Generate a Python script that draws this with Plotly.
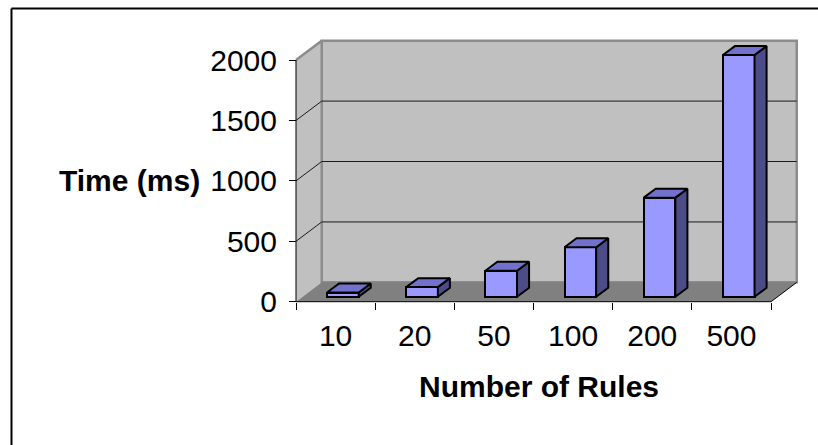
import plotly.graph_objects as go

# ---- data -------------------------------------------------------------
rules = ["10", "20", "50", "100", "200", "500"]
time_ms = [35, 80, 215, 410, 820, 2000]
y_ticks = [0, 500, 1000, 1500, 2000]

# ---- oblique "3-D" geometry, in data units ----------------------------
WALL_DX, WALL_DY = 0.325, 160      # depth of floor / side wall
BAR_BASE = 41                       # bars stand a little behind the front edge
BAR_DX, BAR_DY = 0.152, 74          # depth of each bar
BAR_W, BAR_OFF = 0.40, -0.108

FRONT, TOP, SIDE = "#9999FF", "#7272CC", "#4C4C88"
WALL, FLOOR, EDGE = "#C0C0C0", "#808080", "#8C8C8C"
FONT = "Liberation Sans, Arial, sans-serif"

n = len(rules)
x0, x1 = -0.5, n - 0.5
ymax = y_ticks[-1]

fig = go.Figure()

# front faces
fig.add_trace(go.Bar(
    x=list(range(n)), y=time_ms, base=BAR_BASE, width=BAR_W, offset=BAR_OFF,
    marker=dict(color=FRONT, line=dict(color="black", width=2)),
    hoverinfo="skip", showlegend=False,
))

# top and side faces
tx, ty, sx, sy = [], [], [], []
for i, v in enumerate(time_ms):
    xl = i + BAR_OFF
    xr = xl + BAR_W
    yb = BAR_BASE
    yt = BAR_BASE + v
    tx += [xl, xr, xr + BAR_DX, xl + BAR_DX, xl, None]
    ty += [yt, yt, yt + BAR_DY, yt + BAR_DY, yt, None]
    sx += [xr, xr, xr + BAR_DX, xr + BAR_DX, xr, None]
    sy += [yb, yt, yt + BAR_DY, yb + BAR_DY, yb, None]

for xs, ys, col in ((sx, sy, SIDE), (tx, ty, TOP)):
    fig.add_trace(go.Scatter(
        x=xs, y=ys, mode="lines", fill="toself", fillcolor=col,
        line=dict(color="black", width=2), hoverinfo="skip", showlegend=False,
    ))

# ---- walls and floor --------------------------------------------------
shapes = [
    # side wall
    dict(type="path", layer="below", line=dict(width=0), fillcolor=WALL,
         path=f"M {x0},0 L {x0},{ymax} L {x0 + WALL_DX},{ymax + WALL_DY} "
              f"L {x0 + WALL_DX},{WALL_DY} Z"),
    # back wall
    dict(type="rect", layer="below", x0=x0 + WALL_DX, x1=x1 + WALL_DX,
         y0=WALL_DY, y1=ymax + WALL_DY, fillcolor=WALL,
         line=dict(color=EDGE, width=2.5)),
    # floor
    dict(type="path", layer="below", line=dict(width=0), fillcolor=FLOOR,
         path=f"M {x0},0 L {x1},0 L {x1 + WALL_DX},{WALL_DY} "
              f"L {x0 + WALL_DX},{WALL_DY} Z"),
    # top edge of side wall
    dict(type="line", layer="below", x0=x0, y0=ymax, x1=x0 + WALL_DX,
         y1=ymax + WALL_DY, line=dict(color=EDGE, width=2.5)),
]
for v in y_ticks[1:-1]:
    shapes.append(dict(type="line", layer="below", x0=x0 + WALL_DX, x1=x1 + WALL_DX,
                       y0=v + WALL_DY, y1=v + WALL_DY,
                       line=dict(color="#1A1A1A", width=1)))
    shapes.append(dict(type="line", layer="below", x0=x0, y0=v,
                       x1=x0 + WALL_DX, y1=v + WALL_DY,
                       line=dict(color="#1A1A1A", width=1)))
shapes += [
    # right edge of floor
    dict(type="line", layer="below", x0=x1, y0=0, x1=x1 + WALL_DX, y1=WALL_DY,
         line=dict(color="black", width=1)),
    # front floor edge (category axis)
    dict(type="line", layer="below", x0=x0, y0=0, x1=x1, y1=0,
         line=dict(color="black", width=1)),
    # front wall edge (value axis)
    dict(type="line", layer="below", x0=x0, y0=0, x1=x0, y1=ymax,
         line=dict(color="black", width=1)),
    # chart border: top and left sides, running off the page
    dict(type="line", xref="paper", yref="paper", x0=-0.532, y0=1.1019,
         x1=1.4, y1=1.1019, line=dict(color="black", width=2)),
    dict(type="line", xref="paper", yref="paper", x0=-0.532, y0=1.1019,
         x1=-0.532, y1=-0.9, line=dict(color="black", width=2)),
]

fig.update_layout(
    width=818, height=445, autosize=False,
    margin=dict(l=286, r=16, t=36, b=139, pad=0),
    paper_bgcolor="white", plot_bgcolor="white",
    shapes=shapes, bargap=0,
    font=dict(family=FONT, size=30, color="black"),
    xaxis=dict(
        range=[-0.6263, 5.8913], anchor="free", position=0.0159,
        showgrid=False, zeroline=False, showline=False,
        tickvals=list(range(n)), ticktext=rules,
        ticks="outside", ticklen=7, tickcolor="rgba(0,0,0,0)",
        tickfont=dict(family=FONT, size=30, color="black"),
        minor=dict(tickvals=[i - 0.5 for i in range(n + 1)], ticks="outside",
                   ticklen=7, tickwidth=1, tickcolor="black", showgrid=False),
    ),
    yaxis=dict(
        range=[-35.6, 2198.6], anchor="free", position=0.01938,
        showgrid=False, zeroline=False, showline=False,
        tickvals=y_ticks, ticks="outside", ticklen=7, tickwidth=1,
        tickcolor="black", ticklabelstandoff=6,
        tickfont=dict(family=FONT, size=30, color="black"),
    ),
    annotations=[
        dict(text="<b>Time (ms)</b>", xref="paper", yref="y", x=-0.1634, y=1000,
             xanchor="right", yanchor="middle", showarrow=False,
             font=dict(family=FONT, size=30, color="black")),
        dict(text="<b>Number of Rules</b>", xref="x", yref="paper", x=2.569,
             y=-0.298, xanchor="center", yanchor="middle", showarrow=False,
             font=dict(family=FONT, size=30, color="black")),
    ],
)

fig.write_html("out.html", config={"displayModeBar": False})
